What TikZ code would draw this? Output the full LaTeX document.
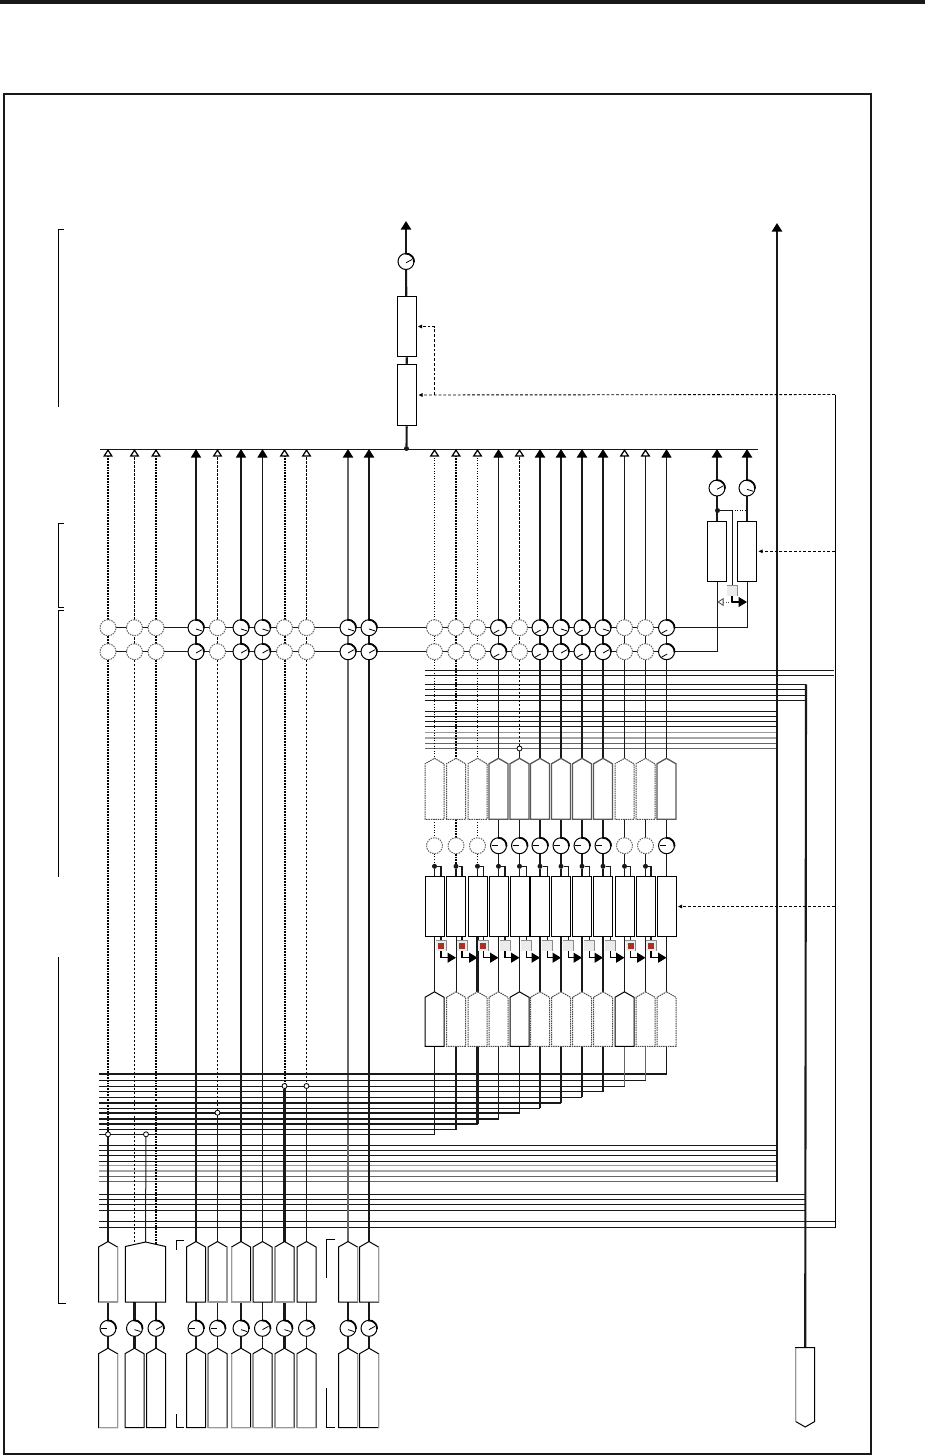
\documentclass[tikz,border=0pt]{standalone}
\usepackage{tikz}
\usetikzlibrary{arrows.meta,backgrounds,positioning,shapes.symbols}
\definecolor{swcol}{RGB}{168,50,40}
\tikzset{%
  wthin/.style={line width=1pt,black!90},
  wmed/.style={line width=1.5pt,black!90},
  wthick/.style={line width=2.1pt,black!90},
  wgrey/.style={line width=2pt,black!60},
  woff/.style={line width=1pt,dash pattern=on 2.5pt off 1.5pt},
  woffb/.style={line width=2pt,dash pattern=on 1.8pt off 1pt},
  wdot/.style={line width=1pt,dash pattern=on 1pt off 1.6pt},
  rgrey/.style={line width=1.3pt,black!40},
  rgreyb/.style={line width=2.2pt,black!35},
  rdark/.style={line width=1.2pt,black!60},
  wctl/.style={line width=.9pt,dash pattern=on 2.8pt off 2pt},
  tipon/.style={-{Triangle[black,length=8.5pt,width=10pt]}},
  tipoff/.style={-{Triangle[open,black,length=7.5pt,width=9.5pt,line width=1.2pt]}},
  tipctl/.style={-{Triangle[length=4pt,width=3.5pt]},shorten >=1.5pt},
  kon/.style={circle,draw=black,fill=white,line width=1pt,minimum size=16pt,inner sep=0pt,outer sep=0pt},
  koff/.style={kon,draw=black!60,dash pattern=on 1.5pt off 1pt},
  box/.style={rectangle,draw=black,fill=white,line width=1pt,minimum width=19pt,inner sep=0pt},
  pent/.style={signal,signal to=north,signal pointer angle=120,draw=black,fill=white,line width=1pt,
    minimum width=19pt,inner sep=0pt,outer sep=0pt,anchor=south},
  pentg/.style={pent,draw=black!65,line width=1.3pt},
  pentd/.style={pent,draw=black!70,dash pattern=on 1.5pt off .8pt},
  gedge/.style={line width=1.3pt,black!40},
  tapnode/.style={circle,draw=black,fill=white,line width=.8pt,minimum size=5pt,inner sep=0pt,outer sep=0pt},
  dotnode/.style={circle,fill=black!90,minimum size=5pt,inner sep=0pt,outer sep=0pt},
  swoff/.style={rectangle,fill=black!8,minimum size=10pt,inner sep=0pt},
  swred/.style={rectangle,fill=swcol,minimum size=6pt,inner sep=0pt},
  brk/.style={line width=.8pt}%
}
\newcommand{\knobarc}[1]{\draw[line width=1.8pt] (#1.95) arc[start angle=95,end angle=-5,radius=8pt];}
\newcommand{\ndown}[1]{\knobarc{#1}\draw[line width=.8pt] ([shift={(0pt,-1.3pt)}]#1.center) -- ([shift={(6pt,-3.2pt)}]#1.center);}
\newcommand{\nup}[1]{\knobarc{#1}\draw[line width=.8pt] ([shift={(0pt,-1.3pt)}]#1.center) -- ([shift={(6pt,2pt)}]#1.center);}
\newcommand{\nlow}[1]{\knobarc{#1}\draw[line width=.8pt] ([shift={(-5pt,-5.5pt)}]#1.center) -- ([shift={(.7pt,-2.3pt)}]#1.center);}
\newcommand{\nleft}[1]{\knobarc{#1}\draw[line width=.8pt] ([shift={(-7pt,0pt)}]#1.center) -- ([shift={(-1pt,0pt)}]#1.center);}
\newcommand{\swedge}[1]{\draw[black!45,line width=1pt] (#1.north west) -- (#1.north east) -- (#1.south east);}

\begin{document}
\begin{tikzpicture}[x=1pt,y=-1pt]
  \useasboundingbox (0,0) rectangle (925,1456);
  \fill[black!90] (0,0) rectangle (925,3.7);
  \draw[line width=2pt,black!90] (3.5,93.5) rectangle (871.3,1454);

  % brackets at the left
  \draw[brk] (64,229) -- (58,229) -- (58,407);
  \draw[brk] (64,523) -- (58,523) -- (58,607) -- (64,607);
  \draw[brk] (64,610) -- (58,610) -- (58,877);
  \draw[brk] (58,957) -- (58,1303) -- (66,1303);
  \draw[brk] (184,1240) -- (176,1240) -- (176,1250);
  \draw[brk] (176,1414) -- (176,1427) -- (184,1427);
  \draw[brk] (335,1239) -- (326,1239) -- (326,1278);
  \draw[brk] (326,1388) -- (326,1427) -- (335,1427);

  % main output
  \coordinate (busl) at (100,449);
  \coordinate (busr) at (758,449);
  \coordinate (outtip) at (406,221);
  \coordinate (rectip) at (777,223);
  \node (knM) [kon] at (406,261.5) {}; \nup{knM}
  \node (mastA) [box,minimum height=60.5pt] at (406.5,326.5) {};
  \node (mastB) [box,minimum height=61.5pt] at (407,395) {};
  \node (busdot) [dotnode] at (406.5,448.5) {};

  % right outputs
  \node (koL) [kon] at (717,488) {}; \nup{koL}
  \node (koR) [kon] at (747,488) {}; \ndown{koR}
  \node (boxL) [box,minimum height=60.5pt] at (717,551.3) {};
  \node (boxR) [box,minimum height=60.5pt] at (747,551.3) {};
  \node (dotO) [dotnode] at (717.5,510.5) {};
  \node (swO) [swoff] at (732,591) {}; \swedge{swO}
  \coordinate (jO) at (732,510.5);
  \coordinate (tipOr) at (747,602);
  \coordinate (tipOl) at (717.5,602);

  % send knobs, two rows
  \foreach \x/\c in {108/L1,134.5/L2,156/L3,217.5/L5,284.5/L8,306.5/L9,434.5/R1,456/R2,477.5/R3,519.5/R5,624.5/R10,645.5/R11}{
    \node (kt\c) [koff] at (\x,627.7) {};
    \node (kb\c) [koff] at (\x,651.7) {};
  }
  \foreach \x/\c/\nt/\nb in {196/L4/\ndown/\nup,241/L6/\ndown/\nup,262.5/L7/\ndown/\nup,348/L10/\ndown/\nup,369/L11/\ndown/\nup,
      498.5/R4/\nlow/\nlow,540/R6/\nlow/\nlow,561/R7/\ndown/\nup,582/R8/\nlow/\nlow,603/R9/\ndown/\nup,666.5/R12/\nlow/\nlow}{
    \node (kt\c) [kon] at (\x,627.7) {}; \nt{kt\c}
    \node (kb\c) [kon] at (\x,651.7) {}; \nb{kb\c}
  }

  % right block
  \foreach \x/\c/\pu/\pd in {434.5/R1/pentd/pent,456/R2/pentd/pentd,477.5/R3/pentd/pentd,498.5/R4/pentg/pentd,519.5/R5/pentg/pent,
      540/R6/pentg/pentd,561/R7/pentg/pentd,582/R8/pentg/pentd,603/R9/pentg/pentd,624.5/R10/pentd/pent,645.5/R11/pentd/pentd,666.5/R12/pentg/pentd}{
    \node (pu\c) [\pu,minimum height=55.5pt] at (\x,819.3) {};
    \node (fx\c) [box,minimum height=59.6pt] at (\x,906.5) {};
    \node (pd\c) [\pd,minimum height=49pt] at (\x,1046.3) {};
  }
  \foreach \x/\c in {434.5/R1,456/R2,477.5/R3,624.5/R10,645.5/R11}{
    \node (kl\c) [koff] at (\x,845.7) {};
  }
  \foreach \x/\c in {498.5/R4,519.5/R5,540/R6,561/R7,582/R8,603/R9,666.5/R12}{
    \node (kl\c) [kon] at (\x,845.7) {}; \nleft{kl\c}
  }
  \foreach \x/\c in {434.5/R1,456/R2,477.5/R3,498.5/R4,519.5/R5,540/R6,561/R7,582/R8,603/R9,624.5/R10,645.5/R11}{
    \node (dot\c) [dotnode] at (\x,866.3) {};
  }
  \foreach \x/\xn/\c in {441/456/R1,462/477.5/R2,483.3/498.5/R3,505/519.5/R4,526.3/540/R5,547.3/561/R6,568.3/582/R7,589.3/603/R8,610.3/624.5/R9,630.5/645.5/R10,651/666.5/R11}{
    \node (sw\c) [swoff] at (\x,945.5) {}; \swedge{sw\c}
    \coordinate (tip\c) at (\xn,957.7);
  }
  \foreach \c in {R1,R2,R3,R10,R11}{ \node (swr\c) [swred] at (sw\c) {}; }
  \node (tapR5) [tapnode] at (519.5,748.5) {};

  % lower left block
  \foreach \x/\c/\nd in {108/L1/\nleft,196/L4/\nleft,217.5/L5/\nleft,241/L6/\ndown,
      262.5/L7/\nup,284.5/L8/\ndown,306.5/L9/\nup,348/L10/\ndown,369/L11/\nup}{
    \node (pu\c) [pent,minimum height=55pt] at (\x,1302) {};
    \node (kl\c) [kon] at (\x,1328.3) {}; \nd{kl\c}
    \node (pd\c) [pent,minimum height=74pt] at (\x,1427.7) {};
  }
  \foreach \x/\c/\nd in {134.5/L2/\ndown,156/L3/\nup}{
    \node (kl\c) [kon] at (\x,1328.3) {}; \nd{kl\c}
    \node (pd\c) [pent,minimum height=74pt] at (\x,1427.7) {};
  }
  \node (pwide) [pent,signal pointer angle=155,minimum width=40.4pt,minimum height=55.5pt] at (145.5,1302) {};
  \coordinate (roofL2) at (134.5,1244.6);
  \coordinate (roofL3) at (156,1244.2);
  \node (tapW) [tapnode] at (146,1134.3) {};
  \node (tapL1) [tapnode] at (108,1134.3) {};
  \node (tapL5) [tapnode] at (217.5,1112.7) {};
  \node (tapL8) [tapnode] at (284.5,1086) {};
  \node (tapL9) [tapnode] at (306.5,1086) {};

  % grey edges of the lower blocks
  \foreach \n in {puL1,puL5,pdL1}{
    \draw[gedge] (\n.south west) -- (\n.south east) -- (\n.north east);
  }
  \foreach \n in {puL6,puL8,pdL5,pdL6,pdL7,pdL8,pdL9}{
    \draw[gedge] (\n.south east) -- (\n.south west) -- (\n.north west);
  }
  \foreach \n in {puL10,puL11,pdL10,pdL11}{
    \draw[gedge] (\n.south east) -- (\n.north east);
  }

  % source at the lower right
  \node (source) [pent,signal to=south,anchor=north,minimum width=19pt,minimum height=74pt] at (805.2,1347.5) {};
  \draw[gedge] (source.north west) -- (source.south west);

  % rails
  \foreach \y/\xe/\sty/\i in {670.3/834/wthin/1,675.3/834/wthin/2,684.3/806/wthin/3,689.5/806/wthin/4,695.5/806/wthin/5,700.3/806/wthin/6,
      711/777/wthin/7,716.3/777/wthin/8,721.5/777/wthin/9,726.5/777/wthin/10,732.5/777/rgrey/11,737.8/777/rgreyb/12,743.3/777/rdark/13,748.5/777/rdark/14}{
    \coordinate (ru\i) at (425,\y);
    \coordinate (rue\i) at (\xe,\y);
    \begin{scope}[on background layer]
      \draw[\sty] (ru\i) -- (rue\i);
    \end{scope}
  }
  \foreach \y/\xe/\sty/\i in {1145.3/777/wthin/1,1150.3/777/wthin/2,1155.5/777/wthin/3,1161.5/777/wthin/4,1165.8/777/rgrey/5,1170.8/777/rgreyb/6,1176.3/777/rdark/7,1181.5/777/rdark/8,
      1194.5/806/wthin/9,1199.3/806/wthin/10,1204.3/806/wthin/11,1210.3/806/wthin/12,1221.5/835/wthin/13,1227.5/835/wthin/14}{
    \coordinate (rl\i) at (99,\y);
    \coordinate (rle\i) at (\xe,\y);
    \begin{scope}[on background layer]
      \draw[\sty] (rl\i) -- (rle\i);
    \end{scope}
  }

  % control lines
  \coordinate (ctlA) at (835,394.5);
  \coordinate (ctlB) at (434.3,394.5);
  \coordinate (ctlC) at (835,551.3);
  \coordinate (ctlD) at (835,906.5);

  \begin{scope}[on background layer]
    \draw[wthin] (busl) -- (busr);
    \draw[wthick,tipon] (knM) -- (outtip);
    \path (knM) edge[wthick] (mastA)
          (mastA) edge[wthick] (mastB)
          (mastB) edge[wthick] (busdot);
    \draw[wthick,tipon] (rle8) -- (rectip);
    \draw[wthick] (rue3) -- (source.north);
    \draw[line width=1pt] (ctlA) -- (rle14);
    \draw[wctl,tipctl] (ctlA) -- (mastB.east);
    \draw[wctl,tipctl] (ctlB) |- (mastA.east);
    \draw[wctl,tipctl] (ctlC) -- (boxR.east);
    \draw[wctl,tipctl] (ctlD) -- (fxR12.east);

    % right outputs
    \draw[wthick,tipon] (koL) -- (koL |- busl);
    \draw[wthick,tipon] (koR) -- (koR |- busl);
    \draw[wthick] (koL) -- (boxL);
    \draw[wthick] (koR) -- (boxR);
    \draw[wthin] (ktL1) -- (ktR12) -| (boxR.south);
    \draw[wthin] (kbL1) -- (kbR12) -| (boxL.south);
    \draw[wthin] (dotO) -- (jO) -- (swO.north);
    \draw[wdot] (jO) -- (jO -| boxR);
    \draw[line width=1.2pt,tipon] (swO.south) |- (tipOr);
    \draw[wdot,black!70,-{Triangle[open,length=6pt,width=8pt,line width=.8pt]}] (swO.south |- tipOl) -- (tipOl);

    % sends, up to the bus
    \foreach \c/\sty/\tp in {L1/woffb/tipoff,L2/woff/tipoff,L3/woffb/tipoff,L4/wmed/tipon,L5/woff/tipoff,L6/wmed/tipon,L7/wthin/tipon,
        L8/woffb/tipoff,L9/woff/tipoff,L10/wgrey/tipon,L11/wthick/tipon,
        R1/wdot/tipoff,R2/woffb/tipoff,R3/wdot/tipoff,R4/wthin/tipon,R5/woff/tipoff,R6/wthick/tipon,R7/wthick/tipon,R8/wthick/tipon,R9/wthick/tipon,
        R10/wthin/tipoff,R11/wthin/tipoff,R12/wthin/tipon}{
      \draw[\sty,\tp] (kt\c) -- (kt\c |- busl);
      \draw[\sty] (kb\c) -- (kt\c);
    }

    % sends, down
    \foreach \c/\sty in {L1/woffb,L4/wmed,L5/woff,L6/wmed,L7/wthin,L8/woffb,L9/woff,L10/wgrey,L11/wthick,
        R1/wdot,R2/woffb,R3/wdot,R4/wthin,R5/woff,R6/wthick,R7/wthick,R8/wthick,R9/wthick,R10/wthin,R11/wthin,R12/wthin}{
      \draw[\sty] (kb\c) -- (pu\c.north);
    }
    \draw[woff] (kbL2) -- (roofL2);
    \draw[woffb] (kbL3) -- (roofL3);
    \draw[wthick] (tapL1) -- (puL1.north);
    \draw[wthin] (tapW) -- (pwide.north);
    \draw[wthin] (tapL5) -- (puL5.north);
    \draw[wthick] (tapL8) -- (puL8.north);
    \draw[wmed] (tapL9) -- (puL9.north);
    \draw[wthin] (tapR5) -- (puR5.north);

    % lower left wires
    \foreach \c/\sty in {L1/wthick,L4/wmed,L5/wthin,L6/wmed,L7/wthin,L8/wthick,L9/wmed,L10/wmed,L11/wthick}{
      \draw[\sty] (pd\c) -- (kl\c);
      \draw[\sty] (kl\c) -- (pu\c.south);
    }
    \draw[wthick] (pdL2) -- (klL2);
    \draw[wthick] (klL2) -- (klL2 |- pwide.south);
    \draw[wmed] (pdL3) -- (klL3);
    \draw[wmed] (klL3) -- (klL3 |- pwide.south);

    % right block wires
    \foreach \c/\sty/\stb in {R1/wdot/wthin,R2/woffb/wthin,R3/wdot/wthick,R4/wthin/wthin,R5/wthin/wthin,R6/wthick/wthick,R7/wthick/wthick,R8/wthick/wthick,R9/wthick/wthick,R10/wthin/wthin,R11/wthin/wthin}{
      \draw[\sty] (pu\c.south) -- (kl\c);
      \draw[\sty] (kl\c) -- (dot\c);
      \draw[wmed] (dot\c) -- (fx\c.north);
      \draw[wmed] (dot\c) -| (sw\c.north);
      \draw[\stb] (fx\c.south) -- (pd\c.north);
      \draw[line width=1.3pt,tipon] (sw\c.south) |- (tip\c);
    }
    \draw[wthin] (puR12.south) -- (klR12);
    \draw[wthin] (klR12) -- (fxR12.north);
    \draw[wthin] (fxR12.south) -- (pdR12.north);

    % stairs to the lower rails
    \foreach \c/\y/\stv/\sth in {R12/1074/wthin/wthick,R11/1080/rdark/wthin,R10/1086/rdark/wthin,R9/1091.7/wthick/wthin,R8/1097.3/wthick/wmed,R7/1102.7/wthick/wthick,
        R6/1108.3/wthick/wthin,R5/1112.7/wthin/wthick,R4/1118.7/wthin/wthick,R3/1123.7/wthick/wthick,R2/1129.7/wthick/wthin,R1/1134.3/wthin/wthin}{
      \coordinate (st\c) at (99,\y);
      \draw[\sth] (st\c) -- (st\c -| pd\c.south);
      \draw[\stv] (pd\c.south) -- (st\c -| pd\c.south);
    }
  \end{scope}
\end{tikzpicture}
\end{document}
